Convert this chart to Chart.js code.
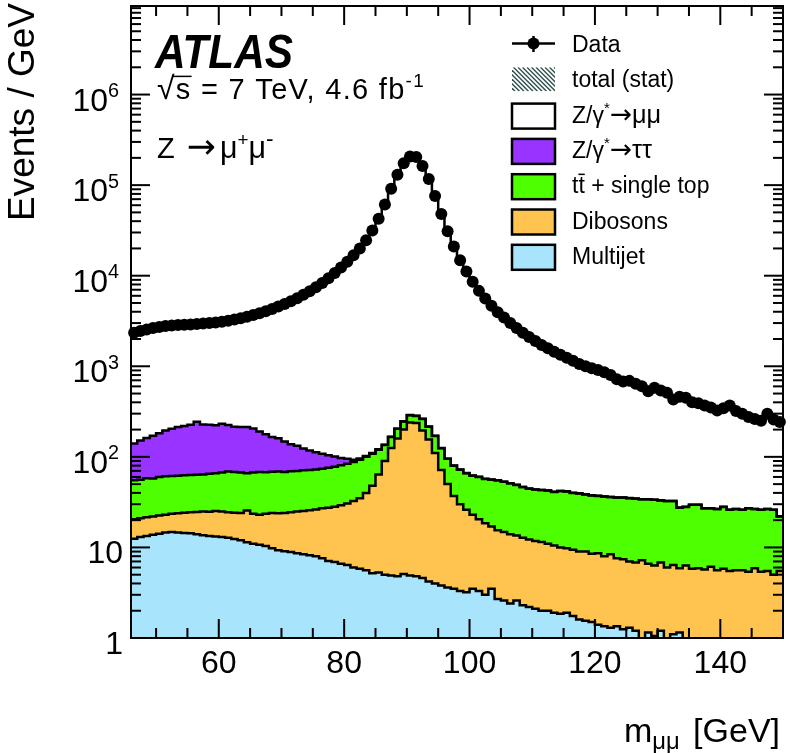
<!DOCTYPE html>
<html>
<head>
<meta charset="utf-8">
<title>Z to mumu invariant mass</title>
<script src="https://cdn.jsdelivr.net/npm/chart.js@4.4.0/dist/chart.umd.min.js"></script>
<style>
  html, body { margin: 0; padding: 0; background: #fff; }
</style>
</head>
<body>
<canvas id="massChart" width="790" height="753"></canvas>
<script>
// Z -> mu+ mu- invariant mass, ATLAS 7 TeV
const FONT = '"Liberation Sans", Arial, Helvetica, sans-serif'
const SYMBOL_FONT = '"DejaVu Sans", sans-serif'

const massLow = 46
const massHigh = 150
const binWidth = 1

// events / GeV per 1 GeV bin, 46-150 GeV
const dataEvents = [
  2350, 2450, 2550, 2650, 2720, 2780, 2820, 2850, 2870, 2900,
  2930, 2960, 3000, 3050, 3110, 3190, 3290, 3400, 3530, 3680,
  3860, 4060, 4290, 4560, 4870, 5230, 5650, 6150, 6750, 7450,
  8300, 9350, 10700, 12300, 14300, 16800, 20000, 24600, 31500, 42500,
  61000, 91000, 130000, 174000, 207000, 204000, 163000, 117000, 76000, 48000,
  31000, 21000, 14800, 11100, 8600, 6800, 5600, 4650, 3950, 3450,
  3000, 2650, 2350, 2100, 1900, 1720, 1580, 1450, 1340, 1240,
  1150, 1060, 1000, 950, 910, 860, 800, 720, 680, 690,
  640, 600, 530, 580, 540, 510, 430, 460, 450, 400,
  390, 370, 350, 325, 345, 370, 320, 300, 275, 262,
  250, 300, 258, 243,
]

const zmumu = [
  2210, 2300, 2390, 2480, 2540, 2590, 2620, 2640, 2650, 2670,
  2690, 2730, 2770, 2830, 2880, 2970, 3080, 3190, 3320, 3480,
  3670, 3880, 4120, 4400, 4720, 5090, 5520, 6030, 6630, 7340,
  8190, 9250, 10600, 12200, 14200, 16700, 19900, 24500, 31400, 42400,
  60900, 90800, 129800, 173800, 206700, 203700, 162700, 116800, 75800, 47900,
  30900, 20900, 14730, 11030, 8540, 6740, 5540, 4590, 3900, 3400,
  2950, 2600, 2300, 2060, 1860, 1680, 1540, 1410, 1300, 1200,
  1110, 1020, 960, 910, 870, 820, 760, 680, 645, 655,
  605, 565, 495, 545, 505, 475, 400, 430, 420, 370,
  360, 345, 325, 300, 315, 345, 295, 275, 250, 235,
  225, 275, 230, 220,
]

const ztautau = [
  85, 96, 104, 114, 122, 134, 143, 152, 157, 163,
  180, 164, 161, 158, 165, 156, 147, 147, 147, 138,
  122, 110, 97, 91, 80, 68, 63, 53, 46, 40,
  34, 28, 23, 16, 11, 5, 3, 2, 2, 1,
  1, 1, 1, 1, 1, 1, 1, 0.8, 0.7, 0.6,
  0.5, 0.4, 0.35, 0.3, 0.25, 0.2, 0.2, 0.15, 0.15, 0.1,
  0.1, 0.1, 0.1, 0.1, 0.1, 0.1, 0.1, 0.1, 0.1, 0.1,
  0.1, 0.1, 0.1, 0.1, 0.1, 0.1, 0.1, 0.1, 0.1, 0.1,
  0.1, 0.1, 0.1, 0.1, 0.1, 0.1, 0.1, 0.1, 0.1, 0.1,
  0.1, 0.1, 0.1, 0.1, 0.1, 0.1, 0.1, 0.1, 0.1, 0.1,
  0.1, 0.1, 0.1, 0.1,
]

const ttbar = [
  34.5, 35, 36.4, 35.5, 37.5, 38, 38, 38.2, 38.3, 38.5,
  38.9, 39, 40.2, 40.8, 42, 44.5, 43.8, 43, 40.5, 43.5,
  45, 44, 44.5, 45.2, 44, 45, 45, 45.7, 45.7, 46.2,
  47, 48.5, 49.8, 51.8, 53.5, 55.5, 58, 60, 60, 56,
  45, 41, 44, 46, 48, 47, 66, 60, 60, 53,
  45, 43, 42, 40, 39, 39.5, 38.5, 39, 39.5, 38.2,
  37, 35.5, 33.7, 32.3, 31.7, 31.5, 31.5, 30.5, 32, 31.7,
  30.6, 30.5, 29.5, 29, 28.4, 28.5, 27.6, 27.9, 28.1, 28,
  27.7, 26.8, 27.4, 27.2, 26.2, 26.5, 26.1, 21.6, 21.7, 23.7,
  23.6, 21.3, 20.9, 20.9, 22.2, 20.5, 20.9, 20.4, 21.6, 20.6,
  20.6, 21, 21, 16.5,
]

const dibosons = [
  8.0, 8.0, 8.2, 8.2, 8.3, 8.4, 8.7, 9.2, 9.8, 10.2,
  10.6, 11.4, 11.4, 12.0, 12.0, 11.7, 11.8, 12.0, 14.1, 12.5,
  12.3, 13.1, 14.2, 14.5, 14.9, 15.6, 16.4, 16.9, 17.6, 18.3,
  19.4, 20.4, 21.3, 22.6, 24.1, 26.5, 29.2, 34.4, 42.8, 58.7,
  85, 120, 155, 195, 235, 231, 191, 151, 106, 68,
  46.4, 33.5, 26.7, 22.8, 19.5, 17.2, 15.5, 13.5, 12.8, 12.2,
  11.6, 10.9, 10.5, 10.0, 9.7, 9.5, 9.0, 8.6, 8.15, 7.9,
  7.65, 7.4, 7.45, 7.0, 7.2, 6.65, 7.1, 6.25, 6.15, 5.7,
  5.6, 6.3, 5.45, 5.25, 5.6, 5.05, 5.3, 4.75, 5.5, 5.05,
  5.2, 5.0, 5.45, 4.95, 5.2, 4.9, 5.05, 5.05, 4.9, 5.4,
  4.9, 5.05, 4.55, 5.05,
]

const multijet = [
  12.5, 13.0, 13.4, 13.8, 14.2, 14.6, 14.8, 14.6, 14.4, 14.3,
  14.0, 13.6, 13.4, 13.2, 13.0, 12.8, 12.4, 12.0, 11.4, 11.0,
  10.7, 10.4, 9.8, 9.3, 9.1, 8.9, 8.6, 8.4, 8.2, 8.0,
  7.6, 7.1, 6.9, 6.6, 6.4, 6.0, 5.8, 5.6, 5.2, 5.3,
  5.0, 4.9, 4.8, 5.1, 4.9, 4.8, 4.6, 4.2, 4.0, 3.8,
  3.6, 3.5, 3.3, 3.2, 3.5, 3.3, 3.0, 3.5, 2.7, 2.6,
  2.4, 2.6, 2.3, 2.2, 2.1, 2.0, 2.0, 1.9, 1.85, 1.9,
  1.75, 1.6, 1.55, 1.5, 1.4, 1.35, 1.3, 1.35, 1.25, 1.3,
  1.2, 0.9, 1.15, 1.05, 1.2, 0.95, 1.1, 1.15, 0.8, 0.75,
  0.7, 0.7, 0.65, 0.65, 0.6, 0.6, 0.55, 0.55, 0.5, 0.5,
  0.5, 0.45, 0.45, 0.45,
]

// axis labels
const xTickLabels = [60, 80, 100, 120, 140]
const yDecades = [0, 1, 2, 3, 4, 5, 6]

const colors = {
  zmumu: '#ffffff',
  ztautau: '#9933ff',
  ttbar: '#4dff00',
  dibosons: '#ffc44f',
  multijet: '#a9e4fd',
}

const nBins = dataEvents.length
const edges = Array.from({ length: nBins + 1 }, (_, i) => massLow + i * binWidth)
const centers = edges.slice(0, nBins).map(e => e + binWidth / 2)

// one point per lower bin edge, plus the closing edge
function stepPoints(values) {
  const pts = values.map((v, i) => ({ x: edges[i], y: v }))
  pts.push({ x: edges[nBins], y: values[nBins - 1] })
  return pts
}

// stack from the bottom up
const stackParts = [
  { label: 'Multijet', values: multijet, color: colors.multijet },
  { label: 'Dibosons', values: dibosons, color: colors.dibosons },
  { label: 'tt + single top', values: ttbar, color: colors.ttbar },
  { label: 'Z/γ*→ττ', values: ztautau, color: colors.ztautau },
  { label: 'Z/γ*→μμ', values: zmumu, color: colors.zmumu },
]
let running = new Array(nBins).fill(0)
const stackDatasets = stackParts.map((p, k) => {
  running = running.map((r, i) => r + p.values[i])
  return {
    type: 'line',
    label: p.label,
    data: stepPoints(running),
    stepped: true,
    borderColor: '#000',
    borderWidth: 2.5,
    backgroundColor: p.color,
    pointRadius: 0,
    fill: k === 0 ? 'start' : '-1',
    order: 1,
  }
})

const dataDataset = {
  type: 'line',
  label: 'Data',
  data: centers.map((c, i) => ({ x: c, y: dataEvents[i] })),
  showLine: false,
  pointRadius: 6,
  pointBackgroundColor: '#000',
  pointBorderColor: '#000',
  pointBorderWidth: 0,
  clip: 10,
  order: 0,
}

// text pieces with superscripts / subscripts / overbars / symbol glyphs
function partFont(p, size) {
  let fs = p.sup || p.sub ? size * (p.scale || 0.65) : size
  if (p.k) fs *= p.k
  return `${fs}px ${p.family || FONT}`
}

function drawParts(ctx, parts, x, y, size) {
  let cx = x
  for (const p of parts) {
    ctx.font = partFont(p, size)
    const dy = p.sup ? -size * 0.42 : p.sub ? size * 0.22 : (p.dy || 0)
    ctx.fillText(p.t, cx, y + dy)
    const w = ctx.measureText(p.t).width
    if (p.bar) {
      ctx.lineWidth = 1.5
      ctx.beginPath()
      ctx.moveTo(cx + (p.barFrom || 0), y - size * (p.barY || 0.8))
      ctx.lineTo(cx + w, y - size * (p.barY || 0.8))
      ctx.stroke()
    }
    cx += w + (p.gap || 0)
  }
  return cx
}

function partsWidth(ctx, parts, size) {
  let w = 0
  for (const p of parts) {
    ctx.font = partFont(p, size)
    w += ctx.measureText(p.t).width + (p.gap || 0)
  }
  return w
}

const arrow = { t: '→', family: SYMBOL_FONT, k: 1.15, dy: 0 }

const legendEntries = [
  { kind: 'data', parts: [{ t: 'Data' }] },
  { kind: 'hatch', parts: [{ t: 'total (stat)' }] },
  { kind: 'box', color: colors.zmumu, parts: [{ t: 'Z/γ' }, { t: '*', sup: true }, arrow, { t: 'μμ', k: 1.1 }] },
  { kind: 'box', color: colors.ztautau, parts: [{ t: 'Z/γ' }, { t: '*', sup: true }, arrow, { t: 'ττ', k: 1.1 }] },
  { kind: 'box', color: colors.ttbar, parts: [{ t: 't' }, { t: 't', bar: true, barY: 0.82 }, { t: ' + single top' }] },
  { kind: 'box', color: colors.dibosons, parts: [{ t: 'Dibosons' }] },
  { kind: 'box', color: colors.multijet, parts: [{ t: 'Multijet' }] },
]

const atlasDecor = {
  id: 'atlasDecor',
  afterDraw(chart) {
    const { ctx, chartArea: a, scales: { x, y } } = chart
    ctx.save()
    ctx.strokeStyle = '#000'
    ctx.fillStyle = '#000'
    ctx.lineWidth = 2

    const seg = (x1, y1, x2, y2) => {
      ctx.beginPath()
      ctx.moveTo(x1, y1)
      ctx.lineTo(x2, y2)
      ctx.stroke()
    }

    // frame
    ctx.strokeRect(a.left, a.top, a.right - a.left, a.bottom - a.top)

    // x ticks, bottom and top
    for (let m = 50; m < massHigh; m += 5) {
      const px = x.getPixelForValue(m)
      const len = m % 20 === 0 ? 19 : 10
      seg(px, a.bottom, px, a.bottom - len)
      seg(px, a.top, px, a.top + len)
    }

    // y ticks, left and right
    for (const d of yDecades) {
      for (let k = 1; k <= 9; k++) {
        const v = k * Math.pow(10, d)
        if (v > y.max) break
        const py = y.getPixelForValue(v)
        const len = k === 1 ? 19 : 10
        seg(a.left, py, a.left + len, py)
        seg(a.right, py, a.right - len, py)
      }
    }

    // x tick labels
    ctx.font = `32px ${FONT}`
    ctx.textAlign = 'center'
    ctx.textBaseline = 'alphabetic'
    for (const t of xTickLabels) {
      ctx.fillText(String(t), x.getPixelForValue(t), a.bottom + 35)
    }

    // y tick labels
    ctx.textAlign = 'left'
    for (const d of yDecades) {
      const py = y.getPixelForValue(Math.pow(10, d)) + 16
      let parts
      if (d === 0) parts = [{ t: '1' }]
      else if (d === 1) parts = [{ t: '10' }]
      else parts = [{ t: '10' }, { t: String(d), sup: true, scale: 0.62 }]
      const w = partsWidth(ctx, parts, 32)
      const right = d < 2 ? 123 : 119
      drawParts(ctx, parts, right - w, py, 32)
    }

    // axis titles
    ctx.save()
    ctx.translate(34, 221)
    ctx.rotate(-Math.PI / 2)
    ctx.font = `37px ${FONT}`
    ctx.fillText('Events / GeV', 0, 0)
    ctx.restore()

    const xTitle = [{ t: 'm' }, { t: 'μμ', sub: true, scale: 0.7, gap: 4 }, { t: ' [GeV]' }]
    const xw = partsWidth(ctx, xTitle, 34)
    drawParts(ctx, xTitle, 780 - xw, 742, 34)

    // ATLAS label
    ctx.font = `italic bold 48px ${FONT}`
    const aw = ctx.measureText('ATLAS').width
    ctx.save()
    ctx.translate(155, 68)
    ctx.scale(138 / aw, 1)
    ctx.fillText('ATLAS', 0, 0)
    ctx.restore()

    ctx.letterSpacing = '1.3px'
    drawParts(ctx, [
      { t: '√', k: 1.1 },
      { t: 's', bar: true, barY: 0.78, barFrom: -3 },
      { t: ' = 7 TeV, 4.6 fb' },
      { t: '-1', sup: true },
    ], 157, 99, 29)
    ctx.letterSpacing = '0px'
    drawParts(ctx, [
      { t: 'Z ', gap: 4 },
      { t: '→', family: SYMBOL_FONT, k: 1.2, gap: 4 },
      { t: 'μ', k: 1.05 },
      { t: '+', sup: true },
      { t: 'μ', k: 1.05 },
      { t: '-', sup: true, k: 1.2 },
    ], 157, 158, 29)

    // legend
    const boxX = 512
    const boxW = 43
    const textX = 572
    legendEntries.forEach((e, i) => {
      const base = 52 + i * 35.3
      if (e.kind === 'data') {
        ctx.lineWidth = 2.5
        seg(boxX, base - 8.5, boxX + boxW, base - 8.5)
        seg(boxX + boxW / 2, base - 16, boxX + boxW / 2, base)
        ctx.beginPath()
        ctx.arc(boxX + boxW / 2, base - 8.5, 6, 0, Math.PI * 2)
        ctx.fill()
      } else if (e.kind === 'hatch') {
        ctx.save()
        ctx.beginPath()
        ctx.rect(boxX, base - 20, boxW, 24)
        ctx.clip()
        ctx.strokeStyle = '#2f4f4f'
        ctx.lineWidth = 1.4
        for (let s = -30; s < boxW + 30; s += 4.5) {
          seg(boxX + s, base - 20, boxX + s + 24, base + 4)
        }
        ctx.restore()
      } else {
        ctx.fillStyle = e.color
        ctx.fillRect(boxX, base - 19, boxW, 25)
        ctx.fillStyle = '#000'
        ctx.lineWidth = 2.5
        ctx.strokeRect(boxX, base - 19, boxW, 25)
      }
      drawParts(ctx, e.parts, textX, base, 23)
    })

    ctx.restore()
  },
}

new Chart(document.getElementById('massChart'), {
  type: 'line',
  data: { datasets: [dataDataset, ...stackDatasets] },
  options: {
    responsive: false,
    animation: false,
    devicePixelRatio: 1,
    layout: { padding: { left: 131, right: 7, top: 1, bottom: 115 } },
    scales: {
      x: { type: 'linear', min: massLow, max: massHigh, display: false },
      y: { type: 'logarithmic', min: 1, max: 9.5e6, display: false },
    },
    plugins: {
      legend: { display: false },
      tooltip: { enabled: false },
      filler: { propagate: false, drawTime: 'beforeDatasetsDraw' },
    },
  },
  plugins: [atlasDecor],
})
</script>
</body>
</html>
